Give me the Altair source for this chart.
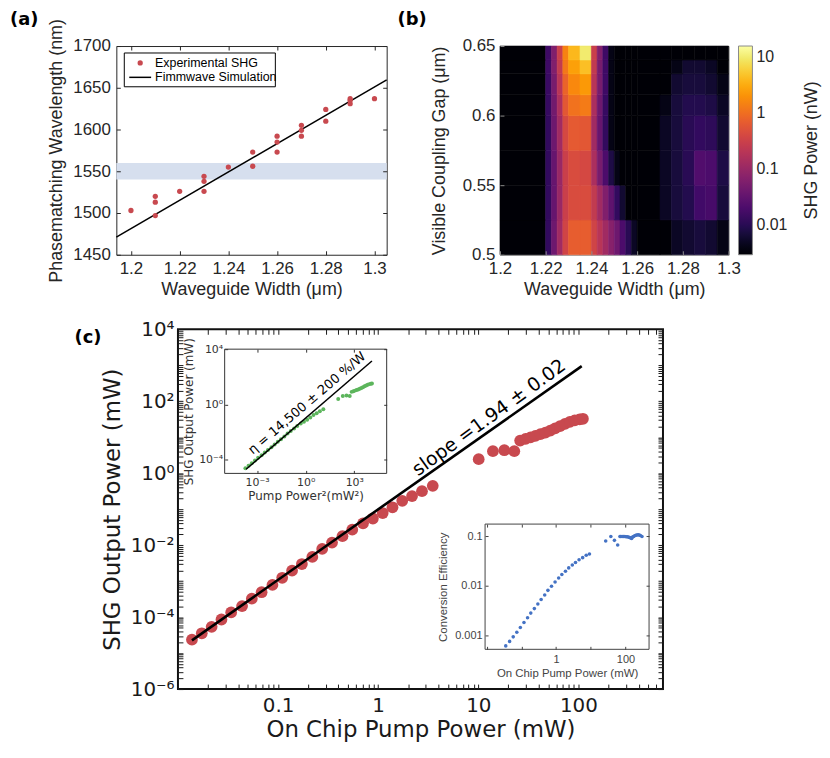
import altair as alt
import pandas as pd

# ---------------- panel (a) data ----------------
a_width_um = [1.20, 1.21, 1.21, 1.21, 1.22, 1.23, 1.23, 1.23, 1.24, 1.25, 1.25,
              1.26, 1.26, 1.26, 1.27, 1.27, 1.27, 1.28, 1.28, 1.29, 1.29, 1.29, 1.30]
a_wavelength_nm = [1503, 1520, 1513, 1497, 1526, 1544, 1538, 1526, 1555, 1573, 1556,
                   1592, 1585, 1573, 1605, 1599, 1592, 1624, 1610, 1637, 1635, 1631, 1637]
a_sim_width_um = [1.194, 1.305]
a_sim_wavelength_nm = [1471, 1659.5]
a_band_nm = [1540, 1560]
a_xticks = [1.2, 1.22, 1.24, 1.26, 1.28, 1.3]
a_yticks = [1450, 1500, 1550, 1600, 1650, 1700]
a_legend_labels = ["Experimental SHG", "Fimmwave Simulation"]

# ---------------- panel (b) data ----------------
b_x_edges = [1.2, 1.22, 1.2225, 1.225, 1.2275, 1.23, 1.235, 1.24, 1.2425, 1.245, 1.2475,
             1.25, 1.2525, 1.255, 1.2575, 1.26, 1.27, 1.275, 1.28, 1.285, 1.29, 1.295, 1.3]
b_y_edges = [0.5, 0.525, 0.55, 0.575, 0.6, 0.615, 0.63, 0.64, 0.65]
b_shg_nw = [
    [0.003, 0.012, 0.04, 0.12, 0.35, 0.7, 0.7, 0.35, 0.2, 0.12, 0.07, 0.04, 0.02, 0.01, 0.005, 0.003, 0.003, 0.005, 0.006, 0.007, 0.006, 0.004],
    [0.003, 0.012, 0.035, 0.1, 0.3, 0.45, 0.45, 0.25, 0.12, 0.06, 0.03, 0.012, 0.006, 0.003, 0.003, 0.003, 0.005, 0.007, 0.009, 0.016, 0.018, 0.007],
    [0.003, 0.012, 0.035, 0.1, 0.3, 0.45, 0.4, 0.15, 0.05, 0.02, 0.008, 0.004, 0.003, 0.003, 0.003, 0.003, 0.005, 0.007, 0.01, 0.022, 0.02, 0.008],
    [0.003, 0.012, 0.04, 0.12, 0.4, 0.65, 0.6, 0.12, 0.035, 0.012, 0.004, 0.003, 0.003, 0.003, 0.003, 0.003, 0.005, 0.007, 0.01, 0.012, 0.011, 0.006],
    [0.003, 0.013, 0.045, 0.15, 0.6, 1.1, 1.3, 0.15, 0.04, 0.013, 0.004, 0.003, 0.003, 0.003, 0.003, 0.003, 0.004, 0.007, 0.009, 0.009, 0.008, 0.005],
    [0.003, 0.014, 0.05, 0.2, 0.8, 1.7, 2.3, 0.2, 0.05, 0.015, 0.004, 0.003, 0.003, 0.003, 0.003, 0.003, 0.003, 0.006, 0.007, 0.007, 0.006, 0.004],
    [0.003, 0.015, 0.06, 0.25, 1.2, 2.6, 4.5, 0.25, 0.05, 0.015, 0.004, 0.003, 0.003, 0.003, 0.003, 0.003, 0.003, 0.004, 0.006, 0.006, 0.005, 0.003],
    [0.003, 0.015, 0.06, 0.3, 1.5, 4.0, 10.0, 0.3, 0.06, 0.015, 0.004, 0.003, 0.003, 0.003, 0.003, 0.003, 0.003, 0.003, 0.003, 0.003, 0.003, 0.003],
]
b_yticks = [0.5, 0.55, 0.6, 0.65]
b_cbar_ticks = [0.01, 0.1, 1, 10]
b_cbar_title = "SHG Power (nW)"

# ---------------- panel (c) data ----------------
c_pump_mw = [0.0138, 0.0173, 0.0217, 0.0272, 0.0340, 0.0437, 0.0547, 0.0685, 0.0879, 0.110,
             0.138, 0.173, 0.220, 0.276, 0.346, 0.440, 0.551, 0.706, 0.885, 1.11,
             1.39, 1.74, 2.18, 2.74, 3.51,
             10.1, 14.0, 18.2, 22.9,
             26.2, 29.7, 33.3, 37.2, 41.8, 46.8, 52.4, 58.6, 65.6, 73.5, 82.2, 92.0, 103, 111]
c_shg_mw = [2.36e-5, 3.56e-5, 5.36e-5, 8.59e-5, 1.35e-4, 2.03e-4, 3.26e-4, 4.92e-4, 7.87e-4, 1.24e-3,
            1.95e-3, 2.99e-3, 4.70e-3, 7.87e-3, 1.18e-2, 1.78e-2, 2.69e-2, 4.05e-2, 5.51e-2, 7.82e-2,
            0.113, 0.171, 0.232, 0.316, 0.447,
            2.45, 4.09, 4.35, 4.09,
            8.07, 8.95, 9.93, 10.96, 12.2, 13.5, 15.3, 17.6, 20.3, 23.6, 26.6, 29.4, 31.3, 32.6]
c_fit_pump_mw = [0.0138, 108]
c_fit_shg_mw = [2.26e-5, 946]
c_slope_text = "slope =1.94 ± 0.02"
c_slope_pos = [12.8, 35.3]

i1_fit_p2 = [2.1e-4, 1.23e4]
i1_fit_shg = [2.0e-5, 1380]
i1_text = "η = 14,500 ± 200 %/W"
i1_text_pos = [1.2, 1.2]

i2_pump_mw = [0.0355, 0.0459, 0.0583, 0.0740, 0.0935, 0.119, 0.151, 0.187, 0.237, 0.299,
              0.372, 0.471, 0.583, 0.740, 0.938, 1.19, 1.47, 1.87, 2.32, 2.94,
              3.64, 4.61, 5.85, 7.41, 9.18,
              27.0, 38.0, 48.2, 59.8, 69.5, 74.0, 80.7, 88.0, 95.9, 104, 112, 122, 133, 142, 151,
              160, 172, 185, 200, 215, 232, 250, 270, 300]
i2_eff = [6.10e-4, 7.52e-4, 9.29e-4, 1.15e-3, 1.44e-3, 1.81e-3, 2.27e-3, 2.81e-3, 3.47e-3, 4.30e-3,
          5.30e-3, 6.56e-3, 8.11e-3, 9.86e-3, 1.20e-2, 1.44e-2, 1.70e-2, 1.98e-2, 2.31e-2, 2.64e-2,
          2.97e-2, 3.37e-2, 3.73e-2, 4.16e-2, 4.42e-2,
          0.0807, 0.100, 0.0834, 0.0673, 0.100, 0.100, 0.100, 0.100, 0.100, 0.099, 0.0986, 0.097, 0.0955, 0.093, 0.0912,
          0.097, 0.100, 0.103, 0.106, 0.107, 0.108, 0.107, 0.105, 0.100]

RED = "#c8494f"
GREEN = "#5cb55c"
BLUE = "#4472c4"
TXT = "#262626"
FA = "Liberation Sans"
FC = "DejaVu Sans"


def log_ticks(e0, e1, vmax):
    out = []
    for e in range(e0, e1 + 1):
        for k in range(1, 10):
            v = float(f"{k}e{e}")
            if v <= vmax:
                out.append(v)
    return out


def ax(orient, offset, values, tick, color, font, lsize, tsize, labels=True, **kw):
    d = dict(orient=orient, offset=offset, values=values, tickSize=tick, tickColor=color,
             tickWidth=1, domain=False, grid=False, labelFlush=False, labelOverlap=False,
             zindex=1, labelFont=font, labelFontSize=lsize, labelColor=color,
             titleFont=font, titleFontSize=tsize, titleFontWeight="normal", titleColor=color)
    if not labels:
        d.update(labels=False, title=None)
    d.update(kw)
    return alt.Axis(**d)


one = pd.DataFrame({"k": [0]})

# ================= panel (a) =================
AW, AH = 272, 210
xa = alt.Scale(domain=[1.194, 1.305], nice=False, zero=False)
ya = alt.Scale(domain=[1450, 1700], nice=False, zero=False)
df_a = pd.DataFrame({"w": a_width_um, "l": a_wavelength_nm})
df_sim = pd.DataFrame({"w": a_sim_width_um, "l": a_sim_wavelength_nm})
df_band = pd.DataFrame({"y": [a_band_nm[0]], "y2": [a_band_nm[1]]})

band = alt.Chart(df_band).mark_rect(color="#d6dfee").encode(
    x=alt.value(0), x2=alt.value(AW),
    y=alt.Y("y:Q", scale=ya, axis=None), y2="y2:Q")
line_a = alt.Chart(df_sim).mark_line(color="black", strokeWidth=1.5).encode(
    x=alt.X("w:Q", scale=xa, axis=ax("top", -4, a_xticks, 4, TXT, FA, 17, 18, labels=False)),
    y=alt.Y("l:Q", scale=ya, axis=ax("right", -4, a_yticks, 4, TXT, FA, 17, 18, labels=False)))
pts_a = alt.Chart(df_a).mark_circle(size=28, color=RED, opacity=1).encode(
    x=alt.X("w:Q", scale=xa, axis=ax("bottom", -4, a_xticks, 4, TXT, FA, 17, 18, format="~g",
                                     title="Waveguide Width (μm)", labelPadding=6, titlePadding=4)),
    y=alt.Y("l:Q", scale=ya, axis=ax("left", -4, a_yticks, 4, TXT, FA, 17, 18, format="d",
                                     title="Phasematching Wavelength (nm)", labelPadding=6, titlePadding=7)))
leg_box = alt.Chart(one).mark_rect(fill="white", stroke="black", strokeWidth=1).encode(
    x=alt.value(8), x2=alt.value(160), y=alt.value(7), y2=alt.value(41))
leg_dot = alt.Chart(one).mark_circle(size=28, color=RED, opacity=1).encode(x=alt.value(24), y=alt.value(17))
leg_line = alt.Chart(one).mark_rule(color="black", strokeWidth=1.5).encode(
    x=alt.value(13), x2=alt.value(35), y=alt.value(31.5))
leg_t1 = alt.Chart(one).mark_text(text=a_legend_labels[0], align="left", baseline="middle", font=FA,
                                  fontSize=12.5, color="black").encode(x=alt.value(39), y=alt.value(17))
leg_t2 = alt.Chart(one).mark_text(text=a_legend_labels[1], align="left", baseline="middle", font=FA,
                                  fontSize=12.5, color="black").encode(x=alt.value(39), y=alt.value(31.5))
lab_a = alt.Chart(one).mark_text(text="(a)", align="left", baseline="top", font=FC, fontWeight="bold",
                                 fontSize=18, color="black").encode(x=alt.value(-107), y=alt.value(-35))
chart_a = alt.layer(band, line_a, pts_a, leg_box, leg_dot, leg_line, leg_t1, leg_t2, lab_a).properties(
    width=AW, height=AH, view=alt.ViewBackground(stroke=TXT, strokeWidth=1))

# ================= panel (b) =================
BW, BH = 230, 210
rows = []
for j in range(len(b_y_edges) - 1):
    for i in range(len(b_x_edges) - 1):
        rows.append({"x": b_x_edges[i], "x2": b_x_edges[i + 1], "y": b_y_edges[j],
                     "y2": b_y_edges[j + 1], "v": b_shg_nw[j][i]})
df_b = pd.DataFrame(rows)
xb = alt.Scale(domain=[1.2, 1.3], nice=False, zero=False)
yb = alt.Scale(domain=[0.5, 0.65], nice=False, zero=False)
cs = alt.Scale(type="log", domain=[0.0029, 16], scheme="inferno", nice=False)
cs_edge = alt.Scale(type="log", domain=[0.00290001, 16], scheme="inferno", nice=False)
heat = alt.Chart(df_b).mark_rect(strokeWidth=0.6).encode(
    x=alt.X("x:Q", scale=xb, axis=ax("bottom", -4, a_xticks, 4, "#8a8a8a", FA, 17, 18, format="~g",
                                     labelColor=TXT, titleColor=TXT,
                                     title="Waveguide Width (μm)", labelPadding=6, titlePadding=4)),
    x2="x2:Q",
    y=alt.Y("y:Q", scale=yb, axis=ax("left", -4, b_yticks, 4, "#8a8a8a", FA, 17, 18, format="~g",
                                     labelColor=TXT, titleColor=TXT,
                                     title="Visible Coupling Gap (μm)", labelPadding=5, titlePadding=14)),
    y2="y2:Q",
    color=alt.Color("v:Q", scale=cs, legend=alt.Legend(
        type="gradient", orient="none", legendX=735, legendY=0, direction="vertical",
        gradientLength=BH, gradientThickness=14, values=b_cbar_ticks, format="~g", title=None,
        labelFont=FA, labelFontSize=16, labelOffset=4,
        labelColor=TXT, labelOverlap=False, gradientStrokeColor="#8a8a8a", gradientStrokeWidth=1)),
    stroke=alt.Stroke("v:Q", scale=cs_edge, legend=None))
cbar_title = alt.Chart(one).mark_text(text=b_cbar_title, angle=270, align="center", baseline="middle",
                                      font=FA, fontSize=18, color=TXT).encode(
    x=alt.value(BW + 84), y=alt.value(BH / 2))
lab_b = alt.Chart(one).mark_text(text="(b)", align="left", baseline="top", font=FC, fontWeight="bold",
                                 fontSize=18, color="black").encode(x=alt.value(-103), y=alt.value(-35))
chart_b = alt.layer(heat, lab_b, cbar_title).properties(
    width=BW, height=BH, view=alt.ViewBackground(stroke="#8a8a8a", strokeWidth=1))

# ================= panel (c) =================
CW, CH = 488, 362
I1X, I1Y = [47, 210], [145, 20]
I2X, I2Y = [309, 474], [322, 196]
xc = alt.Scale(type="log", domain=[0.01, 700], nice=False)
yc = alt.Scale(type="log", domain=[1e-6, 1e4], nice=False)
cx_ticks = log_ticks(-2, 2, 700)
cy_ticks = log_ticks(-6, 4, 1e4)
x_lab = ("datum.value == 0.1 ? '0.1' : datum.value == 1 ? '1' : datum.value == 10 ? '10' : "
         "datum.value == 100 ? '100' : ''")
y_lab = ("datum.value == 10000 ? '10⁴' : datum.value == 100 ? '10²' : datum.value == 1 ? '10⁰' : "
         "datum.value == 0.01 ? '10⁻²' : datum.value == 0.0001 ? '10⁻⁴' : "
         "datum.value == 0.000001 ? '10⁻⁶' : ''")
df_c = pd.DataFrame({"pump": c_pump_mw, "shg": c_shg_mw})
df_fit = pd.DataFrame({"pump": c_fit_pump_mw, "shg": c_fit_shg_mw})
CK = "#1a1a1a"

pts_c = alt.Chart(df_c).mark_circle(size=140, color=RED, opacity=1).encode(
    x=alt.X("pump:Q", scale=xc, axis=ax("bottom", -5, cx_ticks, 5, CK, FC, 20, 23, labelExpr=x_lab,
                                        title="On Chip Pump Power (mW)", labelPadding=7, titlePadding=3)),
    y=alt.Y("shg:Q", scale=yc, axis=ax("left", -5, cy_ticks, 5, CK, FC, 20, 23, labelExpr=y_lab,
                                       title="SHG Output Power (mW)", labelPadding=4, titlePadding=6)))
line_c = alt.Chart(df_fit).mark_line(color="black", strokeWidth=2.6).encode(
    x=alt.X("pump:Q", scale=xc, axis=ax("top", -5, cx_ticks, 5, CK, FC, 20, 23, labels=False)),
    y=alt.Y("shg:Q", scale=yc, axis=ax("right", -5, cy_ticks, 5, CK, FC, 20, 23, labels=False)))
slope_t = alt.Chart(pd.DataFrame({"x": [c_slope_pos[0]], "y": [c_slope_pos[1]]})).mark_text(
    text=c_slope_text, angle=324, font=FC, fontSize=19, color="black", align="center",
    baseline="middle").encode(x=alt.X("x:Q", scale=xc, axis=None), y=alt.Y("y:Q", scale=yc, axis=None))

# inset 1
xi1 = alt.Scale(type="log", domain=[1e-5, 1e5], nice=False, range=I1X)
yi1 = alt.Scale(type="log", domain=[1e-5, 1e4], nice=False, range=I1Y)
i1x_lab = "datum.value == 0.001 ? '10⁻³' : datum.value == 1 ? '10⁰' : datum.value == 1000 ? '10³' : ''"
i1y_lab = "datum.value == 0.0001 ? '10⁻⁴' : datum.value == 1 ? '10⁰' : datum.value == 10000 ? '10⁴' : ''"
IC = "#333333"
frame1 = alt.Chart(one).mark_rect(fill="white", stroke=IC, strokeWidth=1).encode(
    x=alt.value(I1X[0]), x2=alt.value(I1X[1]), y=alt.value(I1Y[1]), y2=alt.value(I1Y[0]))
green = alt.Chart(df_c).transform_calculate(p2="datum.pump * datum.pump").mark_circle(
    size=16, color=GREEN, opacity=1).encode(
    x=alt.X("p2:Q", scale=xi1, axis=ax("bottom", -(CH - I1Y[0] + 3), [1e-3, 1, 1e3], 3, IC, FC, 11, 12,
                                       labelExpr=i1x_lab, title="Pump Power²(mW²)",
                                       labelPadding=3, titlePadding=3)),
    y=alt.Y("shg:Q", scale=yi1, axis=ax("left", -(I1X[0] + 3), [1e-4, 1, 1e4], 3, IC, FC, 11, 12,
                                        labelExpr=i1y_lab, title="SHG Output Power (mW)",
                                        labelPadding=2, titlePadding=3)))
line_i1 = alt.Chart(pd.DataFrame({"p2": i1_fit_p2, "shg": i1_fit_shg})).mark_line(
    color="black", strokeWidth=1.5).encode(
    x=alt.X("p2:Q", scale=xi1, axis=ax("top", -(I1Y[1] + 3), [1e-3, 1, 1e3], 3, IC, FC, 11, 12, labels=False)),
    y=alt.Y("shg:Q", scale=yi1, axis=ax("right", (I1X[1] - 3) - CW, [1e-4, 1, 1e4], 3, IC, FC, 11, 12,
                                        labels=False)))
eta_t = alt.Chart(pd.DataFrame({"x": [i1_text_pos[0]], "y": [i1_text_pos[1]]})).mark_text(
    text=i1_text, angle=319.5, font=FC, fontSize=13, color="black", align="center",
    baseline="middle").encode(x=alt.X("x:Q", scale=xi1, axis=None), y=alt.Y("y:Q", scale=yi1, axis=None))

# inset 2
xi2 = alt.Scale(type="log", domain=[0.009, 480], nice=False, range=I2X)
yi2 = alt.Scale(type="log", domain=[0.00052, 0.178], nice=False, range=I2Y)
IC2 = "#444444"
i2x_lab = "datum.value == 1 ? '1' : datum.value == 100 ? '100' : ''"
frame2 = alt.Chart(one).mark_rect(fill="white", stroke=IC2, strokeWidth=1).encode(
    x=alt.value(I2X[0]), x2=alt.value(I2X[1]), y=alt.value(I2Y[1]), y2=alt.value(I2Y[0]))
df_i2 = pd.DataFrame({"pump": i2_pump_mw, "eff": i2_eff})
blue = alt.Chart(df_i2).mark_circle(size=13, color=BLUE, opacity=1).encode(
    x=alt.X("pump:Q", scale=xi2, axis=ax("bottom", -(CH - I2Y[0] + 3), [0.01, 0.1, 1, 10, 100], 3, IC2, FA,
                                         11, 11.5, labelExpr=i2x_lab, title="On Chip Pump Power (mW)",
                                         labelPadding=4, titlePadding=3)),
    y=alt.Y("eff:Q", scale=yi2, axis=ax("left", -(I2X[0] + 3), [0.001, 0.01, 0.1], 3, IC2, FA, 11, 11.5,
                                        format="~g", title="Conversion Efficiency",
                                        labelPadding=3, titlePadding=6)))
blue_ticks = alt.Chart(df_i2).mark_circle(size=13, color=BLUE, opacity=0).encode(
    x=alt.X("pump:Q", scale=xi2, axis=ax("top", -(I2Y[1] + 3), [0.01, 0.1, 1, 10, 100], 3, IC2, FA, 11, 11,
                                         labels=False)),
    y=alt.Y("eff:Q", scale=yi2, axis=ax("right", (I2X[1] - 3) - CW, [0.001, 0.01, 0.1], 3, IC2, FA, 11, 11,
                                        labels=False)))
lab_c = alt.Chart(one).mark_text(text="(c)", align="left", baseline="top", font=FC, fontWeight="bold",
                                 fontSize=18, color="black").encode(x=alt.value(-104), y=alt.value(0))

chart_c = alt.layer(pts_c, line_c, slope_t, frame1, green, line_i1, eta_t, frame2, blue, blue_ticks,
                    lab_c).resolve_scale(x="independent", y="independent").properties(
    width=CW, height=CH, view=alt.ViewBackground(stroke="#111111", strokeWidth=2))


def spacer(w):
    return alt.Chart(one).mark_point(opacity=0, size=1).properties(
        width=w, height=10, view=alt.ViewBackground(strokeWidth=0, stroke="transparent"))


top = alt.hconcat(spacer(1), alt.hconcat(chart_a, chart_b, spacing=6), spacing=0)
bottom = alt.hconcat(spacer(66), chart_c, spacing=0)
chart = alt.vconcat(top, bottom, spacing=19).properties(padding=0).configure(font=FA)

chart.save("out.html", embed_options={"renderer": "svg", "actions": False})
